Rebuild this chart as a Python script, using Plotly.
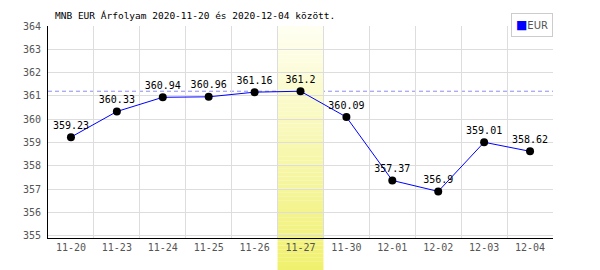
import plotly.graph_objects as go

dates = ["11-20", "11-23", "11-24", "11-25", "11-26", "11-27", "11-30", "12-01", "12-02", "12-03", "12-04"]
eur = [359.23, 360.33, 360.94, 360.96, 361.16, 361.2, 360.09, 357.37, 356.9, 359.01, 358.62]
highlight = "11-27"
y_ticks = [355, 356, 357, 358, 359, 360, 361, 362, 363, 364]
title = "MNB EUR Árfolyam 2020-11-20 és 2020-12-04 között."

MONO = "DejaVu Sans Mono"
L, R, T, B = 48, 47, 26, 32
H = 270
plot_h = H - T - B

fig = go.Figure()

fig.add_trace(go.Scatter(
    x=dates, y=eur, mode="lines+markers+text",
    line=dict(color="#0000ff", width=1),
    marker=dict(color="#000000", size=8),
    text=[f"{v:g}" for v in eur], textposition="top center",
    textfont=dict(family=MONO, size=10, color="#000000"),
    showlegend=False, cliponaxis=False,
))

shapes = []
# dashed max line (drawn first, below band)
shapes.append(dict(type="line", xref="paper", yref="y", x0=0, x1=1,
                   y0=max(eur), y1=max(eur), layer="below",
                   line=dict(color="#8c8cf0", width=1, dash="4px,3px")))

# gradient band for highlighted date
hi = dates.index(highlight)
n = 60
y_bottom = -B / plot_h
top = (255, 255, 242)
bot = (240, 240, 110)
for k in range(n):
    f0 = k / n
    f1 = (k + 1) / n
    t = (k + 0.5) / n
    c = tuple(round(top[i] + (bot[i] - top[i]) * t) for i in range(3))
    shapes.append(dict(type="rect", xref="x", yref="paper",
                       x0=hi - 0.5, x1=hi + 0.5,
                       y0=1 - f1 * (1 - y_bottom), y1=1 - f0 * (1 - y_bottom),
                       fillcolor=f"rgb{c}", line=dict(width=0), layer="below"))

fig.update_layout(
    width=600, height=H,
    margin=dict(l=L, r=R, t=T, b=B, pad=0),
    paper_bgcolor="white", plot_bgcolor="white",
    shapes=shapes,
    showlegend=False,
    annotations=[
        dict(text=title, xref="paper", yref="paper", x=(53 - L) / (600 - L - R), y=1 + 11 / plot_h,
             xanchor="left", yanchor="middle", showarrow=False,
             font=dict(family=MONO, size=9.5, color="#000000")),
        dict(text="<span style='color:#0000ff;font-size:12px'>■</span>EUR", xref="paper", yref="paper",
             x=1, y=1 + 13 / plot_h, xanchor="right", yanchor="top", showarrow=False,
             bordercolor="#cccccc", borderwidth=1, borderpad=4, bgcolor="white",
             font=dict(family="DejaVu Sans", size=10, color="#555555")),
    ],
)

fig.update_xaxes(
    type="category", range=[-0.5, len(dates) - 0.5],
    showgrid=True, gridcolor="#dddddd", gridwidth=1, tickson="boundaries",
    ticks="", showline=True, linecolor="#000000", linewidth=1,
    tickfont=dict(family=MONO, size=10, color="#555555"),
    zeroline=False,
)
fig.update_yaxes(
    range=[354.9, 364.0], tickvals=y_ticks, ticktext=[str(v) for v in y_ticks],
    showgrid=True, gridcolor="#dddddd", gridwidth=1,
    ticks="", showline=True, linecolor="#000000", linewidth=1,
    tickfont=dict(family=MONO, size=10, color="#555555"),
    zeroline=False, ticklabelstandoff=4,
)

fig.write_html("out.html")
